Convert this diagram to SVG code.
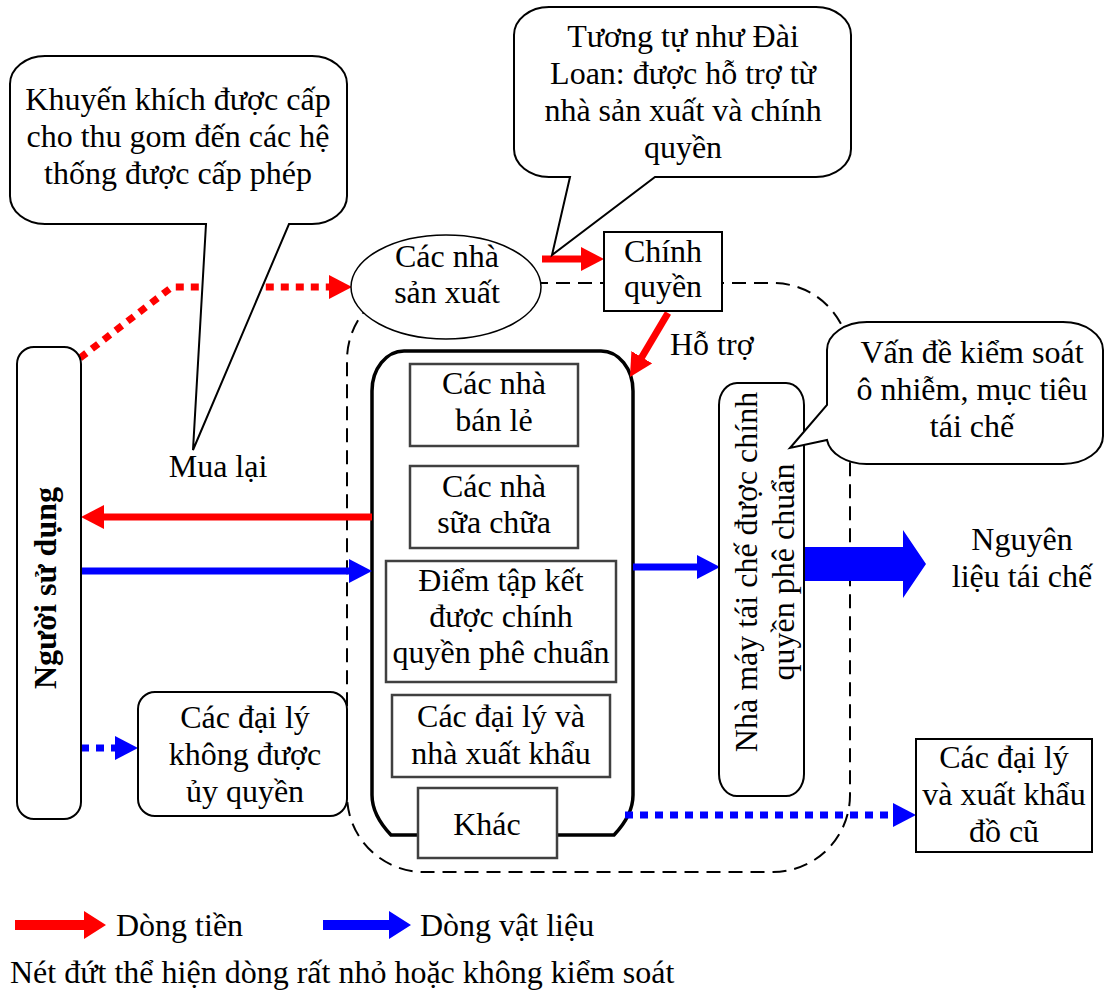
<svg xmlns="http://www.w3.org/2000/svg" width="1104" height="995" viewBox="0 0 1104 995" font-family="'Liberation Serif', 'Times New Roman', Times, 'DejaVu Serif', serif">
  <defs>
    <style>
      text { font-family: "Liberation Serif", "Times New Roman", Times, "DejaVu Serif", serif; font-size: 32px; font-weight: 400; fill: #000; }
      .c { text-anchor: middle; }
      .b { font-weight: 700; }
      .box { fill: #fff; stroke: #000; stroke-width: 2; }
      .inbox { fill: #fff; stroke: #404040; stroke-width: 2.5; }
      .callout { fill: #fff; stroke: #000; stroke-width: 2; stroke-linejoin: miter; }
      .region { fill: none; stroke: #000; stroke-width: 2; stroke-dasharray: 14 8; }
      .red { fill: none; stroke: #f00; stroke-width: 7; }
      .blue { fill: none; stroke: #00f; stroke-width: 7; }
      .dot { stroke-dasharray: 8 7; }
    </style>
    <marker id="ah-red" markerUnits="userSpaceOnUse" markerWidth="24" markerHeight="26" refX="11" refY="12" orient="auto">
      <path d="M0,0 L23,12 L0,24 Z" fill="#f00"/>
    </marker>
    <marker id="ah-blue" markerUnits="userSpaceOnUse" markerWidth="24" markerHeight="26" refX="11" refY="12" orient="auto">
      <path d="M0,0 L23,12 L0,24 Z" fill="#00f"/>
    </marker>
  </defs>

  <rect width="1104" height="995" fill="#fff"/>

  <!-- dashed boundary of the collection system -->
  <g id="region">
    <rect class="region" x="347" y="283" width="503" height="589" rx="77" ry="77"/>
  </g>

  <!-- thick rounded frame around the collection points -->
  <g id="collection-frame">
    <path d="M404,351 H601 A32 40 0 0 1 633,391 V795 Q633,815 614,835 H391 Q372,815 372,795 V391 A32 40 0 0 1 404,351 Z" fill="#fff" stroke="#000" stroke-width="3.5"/>
  </g>

  <!-- flows -->
  <g id="connectors">
    <polyline class="red dot" points="80,358 172,287 340,287" marker-end="url(#ah-red)"/>
    <line class="red" x1="542" y1="259" x2="592" y2="259" marker-end="url(#ah-red)"/>
    <line class="red" x1="668" y1="313" x2="636.1" y2="366.7" marker-end="url(#ah-red)"/>
    <line class="red" x1="372" y1="517" x2="93" y2="517" marker-end="url(#ah-red)"/>
    <line class="blue" x1="81" y1="571" x2="360" y2="571" marker-end="url(#ah-blue)"/>
    <line class="blue dot" x1="81" y1="748" x2="126" y2="748" marker-end="url(#ah-blue)"/>
    <line class="blue" x1="633" y1="567" x2="708" y2="567" marker-end="url(#ah-blue)"/>
    <line class="blue dot" x1="625" y1="815" x2="904" y2="815" marker-end="url(#ah-blue)"/>
    <polygon points="805,547 903,547 903,530 926,564 903,598 903,581 805,581" fill="#00f"/>
  </g>

  <g id="users">
    <rect class="box" x="17" y="347" width="64" height="472" rx="17" ry="17"/>
    <text class="c b" transform="translate(56,588) rotate(-90)">Người sử dụng</text>
  </g>

  <g id="producers">
    <ellipse cx="446" cy="287" rx="95" ry="52" fill="#fff" stroke="#000" stroke-width="1.5"/>
    <text class="c" x="447" y="267">Các nhà</text>
    <text class="c" x="447" y="303">sản xuất</text>
  </g>

  <g id="government">
    <rect class="box" x="604" y="232" width="118" height="79"/>
    <text class="c" x="663" y="262">Chính</text>
    <text class="c" x="663" y="297">quyền</text>
  </g>

  <g id="support-label">
    <text x="670" y="355">Hỗ trợ</text>
  </g>

  <g id="retailers">
    <rect class="inbox" x="410" y="364" width="168" height="82"/>
    <text class="c" x="494" y="394">Các nhà</text>
    <text class="c" x="494" y="431">bán lẻ</text>
  </g>

  <g id="repairers">
    <rect class="inbox" x="410" y="466" width="168" height="82"/>
    <text class="c" x="494" y="497">Các nhà</text>
    <text class="c" x="494" y="533">sữa chữa</text>
  </g>

  <g id="approved-points">
    <rect class="inbox" x="386" y="561" width="230" height="121"/>
    <text class="c" x="501" y="591">Điểm tập kết</text>
    <text class="c" x="501" y="627">được chính</text>
    <text class="c" x="501" y="663">quyền phê chuẩn</text>
  </g>

  <g id="dealers-exporters">
    <rect class="inbox" x="392" y="695" width="218" height="82"/>
    <text class="c" x="501" y="727">Các đại lý và</text>
    <text class="c" x="501" y="764">nhà xuất khẩu</text>
  </g>

  <g id="other">
    <rect class="inbox" x="418" y="788" width="139" height="70"/>
    <text class="c" x="487" y="835">Khác</text>
  </g>

  <g id="recycling-plant">
    <rect class="box" x="719" y="383" width="85" height="413" rx="18" ry="22"/>
    <text class="c" transform="translate(757,572) rotate(-90)">Nhà máy tái chế được chính</text>
    <text class="c" transform="translate(794,572) rotate(-90)">quyền phê chuẩn</text>
  </g>

  <g id="recycled-material">
    <text class="c" x="1022" y="550">Nguyên</text>
    <text class="c" x="1022" y="587">liệu tái chế</text>
  </g>

  <g id="unauthorised-dealers">
    <rect class="box" x="138" y="692" width="209" height="124" rx="17" ry="17"/>
    <text class="c" x="245" y="728">Các đại lý</text>
    <text class="c" x="245" y="765">không được</text>
    <text class="c" x="245" y="802">ủy quyền</text>
  </g>

  <g id="second-hand-exporters">
    <rect class="box" x="916" y="739" width="176" height="113" stroke-width="2.5"/>
    <text class="c" x="1004" y="768">Các đại lý</text>
    <text class="c" x="1004" y="805">và xuất khẩu</text>
    <text class="c" x="1004" y="842">đồ cũ</text>
  </g>

  <g id="buyback-label">
    <text class="c" x="218" y="477">Mua lại</text>
  </g>

  <g id="note-incentive">
    <path class="callout" d="M45,56 H312 A35 28 0 0 1 347,84 V196 A35 28 0 0 1 312,224 H289 L193,450 L206,224 H45 A35 28 0 0 1 10,196 V84 A35 28 0 0 1 45,56 Z"/>
    <text class="c" x="178" y="110">Khuyến khích được cấp</text>
    <text class="c" x="178" y="147">cho thu gom đến các hệ</text>
    <text class="c" x="178" y="184">thống được cấp phép</text>
  </g>

  <g id="note-taiwan">
    <path class="callout" d="M549,7 H816 A35 28 0 0 1 851,35 V149 A35 28 0 0 1 816,177 H655 L552,255 L570,177 H549 A35 28 0 0 1 514,149 V35 A35 28 0 0 1 549,7 Z"/>
    <text class="c" x="683" y="47">Tương tự như Đài</text>
    <text class="c" x="683" y="84">Loan: được hỗ trợ từ</text>
    <text class="c" x="683" y="121">nhà sản xuất và chính</text>
    <text class="c" x="683" y="158">quyền</text>
  </g>

  <g id="note-pollution">
    <path class="callout" d="M867,322 H1063 A40 28 0 0 1 1103,350 V436 A40 28 0 0 1 1063,464 H867 A40 28 0 0 1 827,440 L790,448 L827,405 V350 A40 28 0 0 1 867,322 Z"/>
    <text class="c" x="972" y="363">Vấn đề kiểm soát</text>
    <text class="c" x="972" y="400">ô nhiễm, mục tiêu</text>
    <text class="c" x="972" y="437">tái chế</text>
  </g>

  <g id="legend">
    <polygon points="15,920 84,920 84,911 106,925 84,939 84,930 15,930" fill="#f00"/>
    <text x="116" y="936">Dòng tiền</text>
    <polygon points="323,920 389,920 389,911 411,925 389,939 389,930 323,930" fill="#00f"/>
    <text x="420" y="936">Dòng vật liệu</text>
    <text x="10" y="983">Nét đứt thể hiện dòng rất nhỏ hoặc không kiểm soát</text>
  </g>
</svg>
